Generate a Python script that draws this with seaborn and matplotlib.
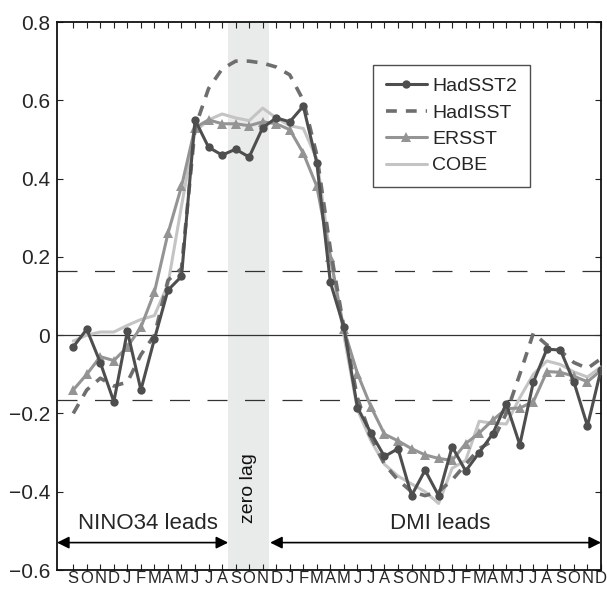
import numpy as np
import pandas as pd
import matplotlib
matplotlib.use("Agg")
import matplotlib.pyplot as plt
import seaborn as sns

months = list("SONDJFMAMJJASONDJFMAMJJASONDJFMAMJJASOND")

hadsst2 = [-0.03, 0.015, -0.07, -0.17, 0.01, -0.14, -0.01, 0.115, 0.15, 0.55,
           0.48, 0.46, 0.475, 0.455, 0.53, 0.555, 0.545, 0.585, 0.44, 0.135,
           0.02, -0.185, -0.25, -0.31, -0.29, -0.41, -0.345, -0.41, -0.285, -0.347,
           -0.30, -0.252, -0.175, -0.28, -0.12, -0.036, -0.038, -0.12, -0.232, -0.088]
hadisst = [-0.20, -0.14, -0.11, -0.13, -0.12, -0.05, 0.0, 0.14, 0.17, 0.53,
           0.63, 0.68, 0.70, 0.70, 0.695, 0.685, 0.665, 0.60, 0.46, 0.22,
           0.02, -0.16, -0.26, -0.33, -0.37, -0.40, -0.41, -0.40, -0.37, -0.33,
           -0.29, -0.27, -0.20, -0.10, 0.005, -0.025, -0.04, -0.07, -0.085, -0.06]
ersst = [-0.14, -0.10, -0.055, -0.065, -0.03, 0.02, 0.11, 0.26, 0.38, 0.53,
         0.55, 0.54, 0.54, 0.535, 0.545, 0.54, 0.525, 0.465, 0.38, 0.20,
         0.015, -0.098, -0.183, -0.253, -0.27, -0.29, -0.306, -0.315, -0.32, -0.277,
         -0.25, -0.217, -0.188, -0.186, -0.17, -0.093, -0.095, -0.105, -0.119, -0.09]
cobe = [-0.015, 0.0, 0.008, 0.008, 0.025, 0.04, 0.05, 0.13, 0.33, 0.52,
        0.55, 0.565, 0.555, 0.548, 0.58, 0.555, 0.535, 0.528, 0.45, 0.20,
        0.0, -0.19, -0.27, -0.33, -0.36, -0.38, -0.40, -0.43, -0.34, -0.32,
        -0.22, -0.225, -0.227, -0.16, -0.10, -0.066, -0.075, -0.094, -0.107, -0.081]

yticks = [-0.6, -0.4, -0.2, 0, 0.2, 0.4, 0.6, 0.8]
ytick_labels = ["\u22120.6", "\u22120.4", "\u22120.2", "0", "0.2", "0.4", "0.6", "0.8"]
sig_level = 0.165

sns.set_style("white")
plt.rcParams['font.family'] = ['Liberation Sans', 'DejaVu Sans']

x = np.arange(len(months))
df = pd.DataFrame({"x": x, "HadSST2": hadsst2, "HadISST": hadisst,
                   "ERSST": ersst, "COBE": cobe})

fig = plt.figure(figsize=(6.07, 5.90), dpi=100)
ax = fig.add_axes([57/607, 20/590, 544/607, 548/590])

ax.axvspan(11.45, 14.5, color="#e8ebea", zorder=0, lw=0)
ax.axhline(0, color="#333333", lw=0.9, zorder=1)
for s in (sig_level, -sig_level):
    ax.axhline(s, color="#333333", lw=0.9, dashes=(16, 14), zorder=1)

sns.lineplot(data=df, x="x", y="COBE", ax=ax, color="#c4c4c4", lw=2.2,
             label="COBE", zorder=3)
sns.lineplot(data=df, x="x", y="ERSST", ax=ax, color="#949494", lw=2.2,
             marker="^", markersize=7.5, markeredgewidth=0, label="ERSST", zorder=4)
sns.lineplot(data=df, x="x", y="HadISST", ax=ax, color="#6e6e6e", lw=2.6,
             dashes=(3, 2.5), label="HadISST", zorder=5)
sns.lineplot(data=df, x="x", y="HadSST2", ax=ax, color="#4e4e4e", lw=2.2,
             marker="o", markersize=6, markeredgewidth=0, label="HadSST2", zorder=6)

ax.set_xlim(-1.2, 39)
ax.set_ylim(-0.6, 0.8)
ax.set_xticks(x)
ax.set_xticklabels(months, fontsize=12)
ax.set_yticks(yticks)
ax.set_yticklabels(ytick_labels, fontsize=15)
ax.set_xlabel("")
ax.set_ylabel("")
ax.tick_params(axis="both", direction="in", length=4, width=0.8,
               top=True, right=True, bottom=True, left=True, color="#222222")
ax.tick_params(axis="x", pad=0.5)
ax.tick_params(axis="y", pad=5)
for sp in ax.spines.values():
    sp.set_color("#111111")
    sp.set_linewidth(1.3)

handles, labels = ax.get_legend_handles_labels()
order = ["HadSST2", "HadISST", "ERSST", "COBE"]
hmap = dict(zip(labels, handles))
leg = ax.legend([hmap[k] for k in order], order, loc="upper right",
                bbox_to_anchor=(0.8695, 0.9215), borderaxespad=0,
                fontsize=14, frameon=True, fancybox=False,
                edgecolor="#222222", handlelength=2.1,
                labelspacing=0.45, borderpad=0.65, handletextpad=0.3)
leg.get_frame().set_linewidth(1.0)

ax.text(12.95, -0.39, "zero lag", rotation=90, ha="center", va="center",
        fontsize=14, color="#111111", zorder=7)

arrow_y = -0.53
ax.annotate("", xy=(-1.2, arrow_y), xytext=(11.45, arrow_y),
            arrowprops=dict(arrowstyle="<|-|>", color="black", lw=1.2,
                            mutation_scale=18, shrinkA=0, shrinkB=0))
ax.annotate("", xy=(14.55, arrow_y), xytext=(39, arrow_y),
            arrowprops=dict(arrowstyle="<|-|>", color="black", lw=1.2,
                            mutation_scale=18, shrinkA=0, shrinkB=0))
ax.text(5.5, -0.482, "NINO34 leads", ha="center", va="center", fontsize=16)
ax.text(27.1, -0.482, "DMI leads", ha="center", va="center", fontsize=16)

fig.savefig("out.png", dpi=100)
